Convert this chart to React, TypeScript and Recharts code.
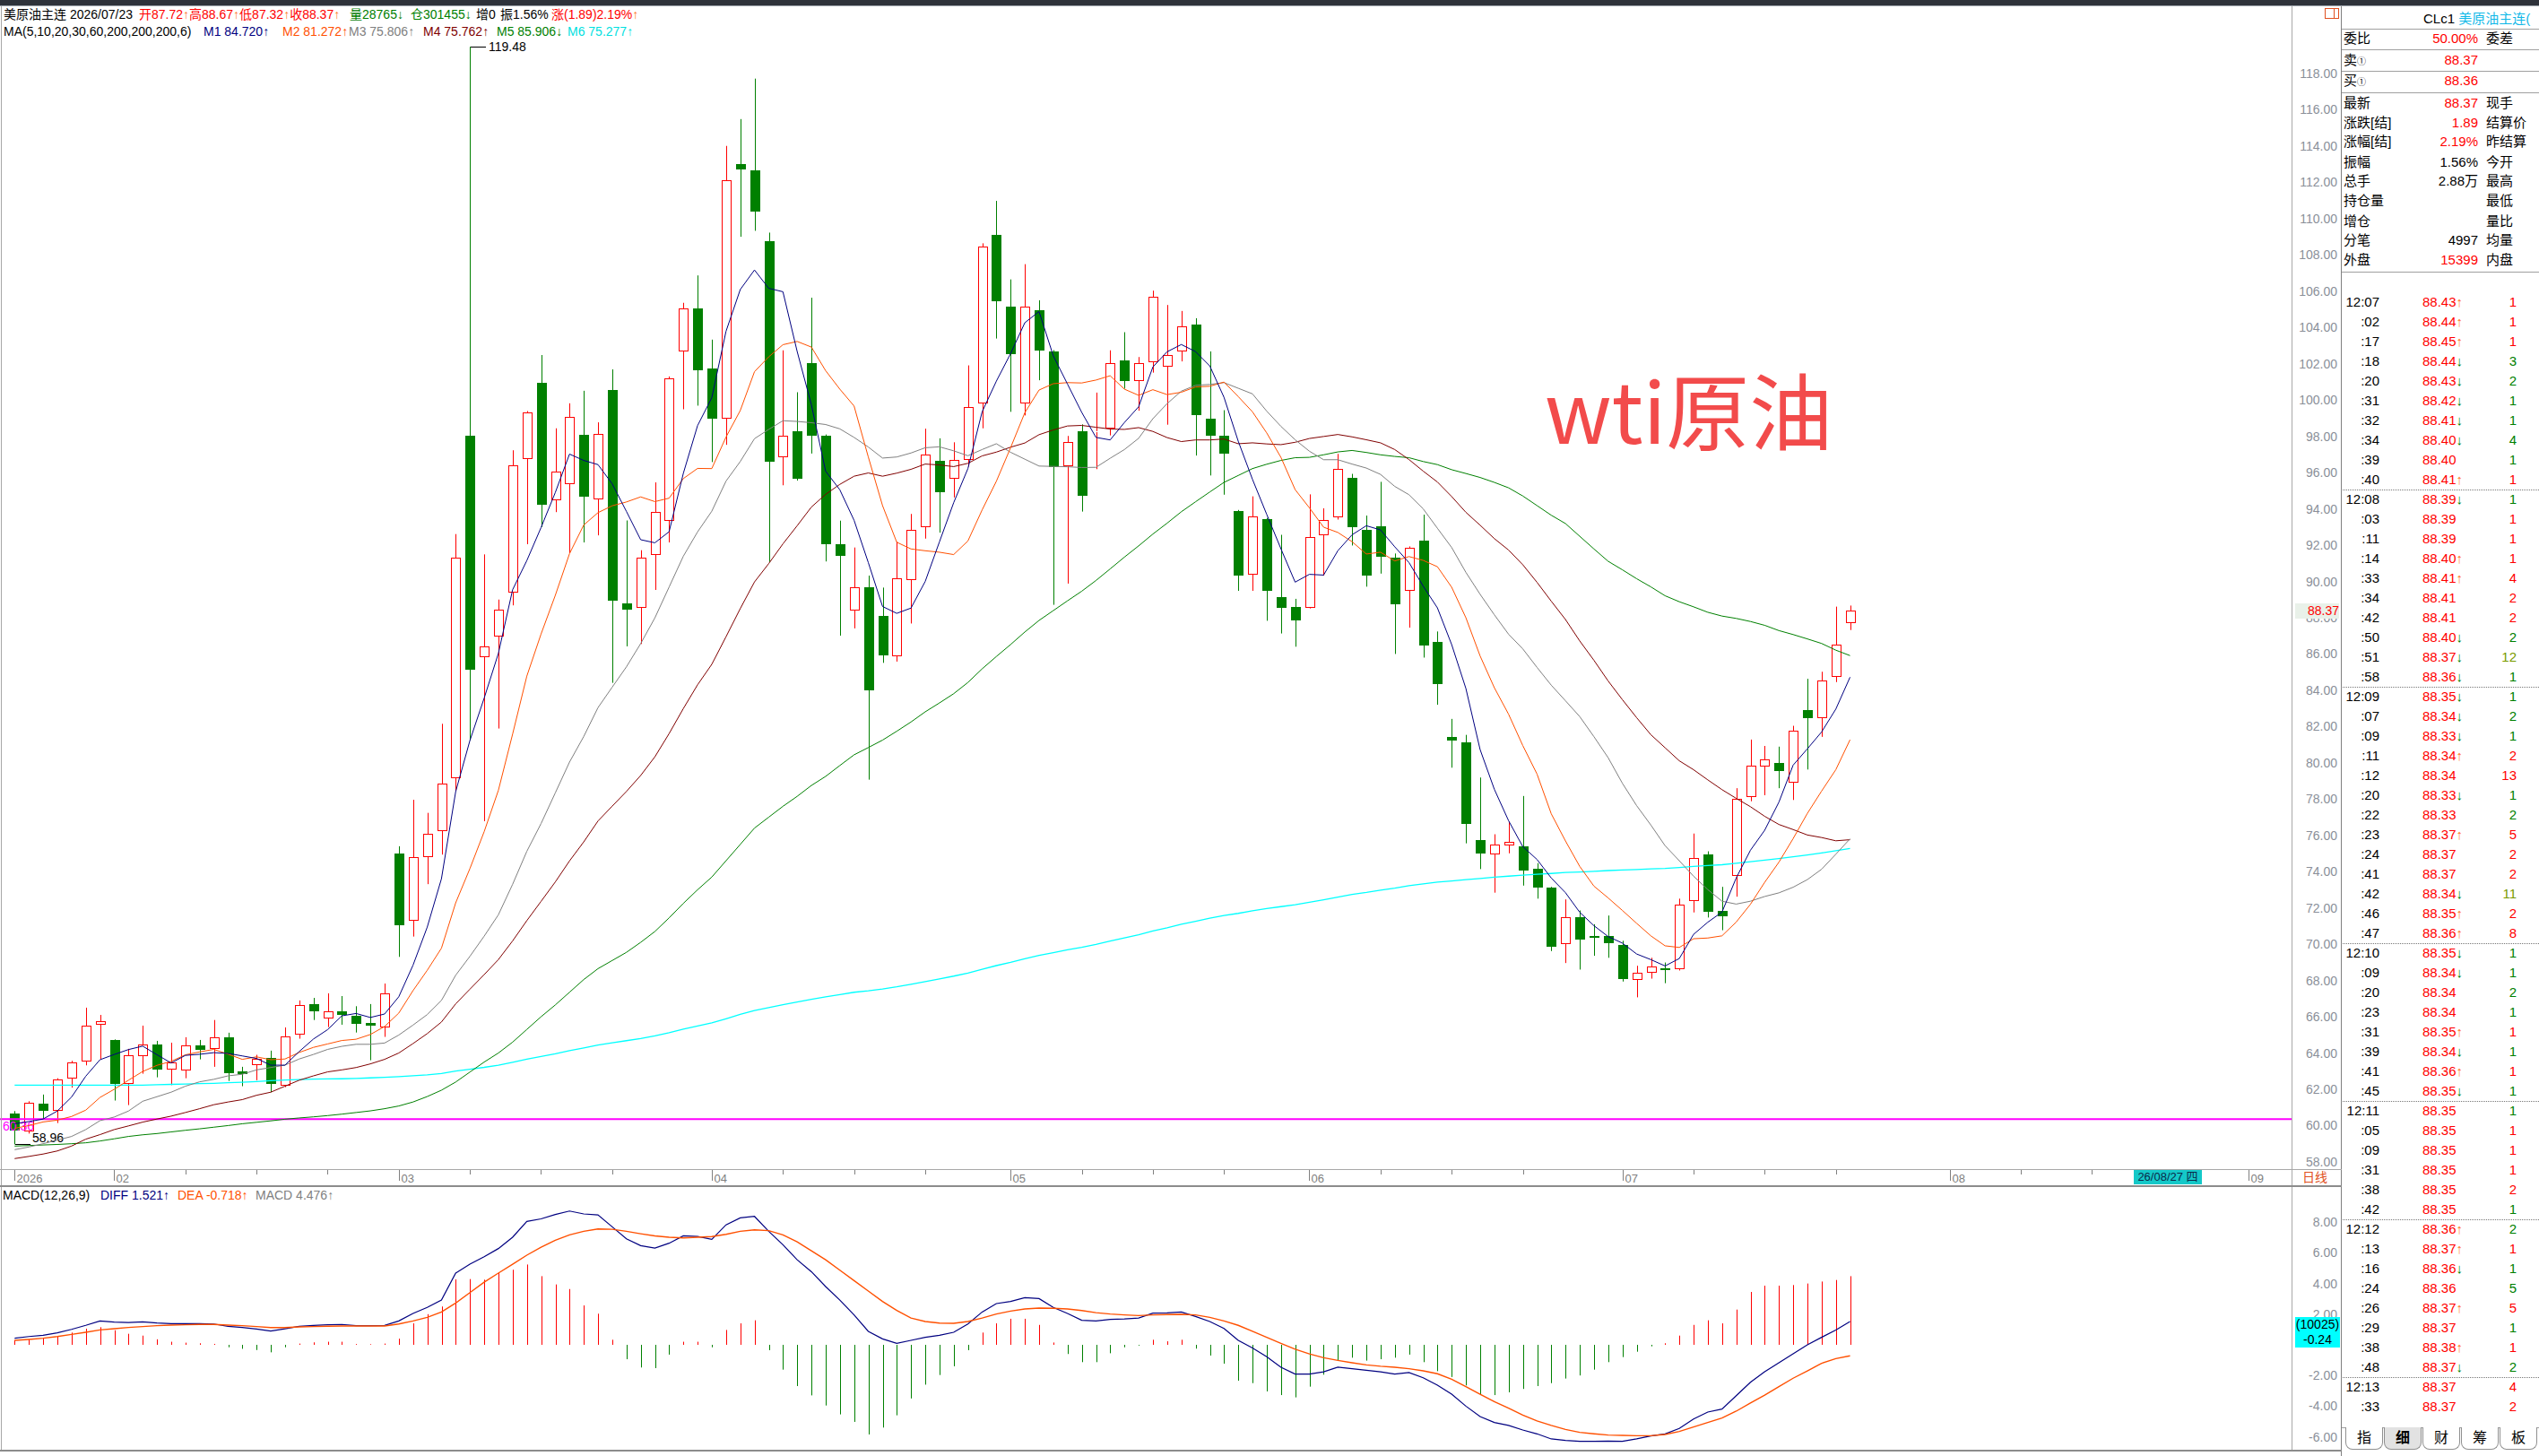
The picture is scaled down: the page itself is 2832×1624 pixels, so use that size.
import React from 'react';
import { ComposedChart, Bar, Line, XAxis, YAxis, ReferenceLine } from 'recharts';

const FONT = "'Liberation Sans', Arial, 'Noto Sans CJK SC', sans-serif";
const RED = '#ff0000';
const GREEN = '#008000';
const AXIS_GRAY = '#8a8f99';

// daily candles, 2026
const opens = [
  60.67, 59.66, 61.21, 60.80, 62.61, 63.52, 65.55, 64.72, 62.28, 63.81,
  64.47, 63.11, 63.02, 64.42, 64.21, 64.87, 62.99, 63.32, 63.73, 62.22,
  65.00, 66.70, 65.92, 66.29, 66.04, 65.66, 65.40, 75.01, 71.27, 74.78,
  76.22, 79.17, 98.05, 85.83, 86.97, 89.40, 96.77, 100.97, 94.48, 95.36,
  98.08, 94.54, 100.54, 88.77, 88.55, 91.46, 93.36, 102.67, 105.06, 101.72,
  98.99, 113.00, 112.64, 108.74, 96.87, 98.28, 102.02, 98.02, 92.04, 88.38,
  89.70, 88.12, 85.87, 90.06, 92.97, 96.64, 95.67, 96.72, 99.79, 109.08,
  105.17, 99.79, 104.95, 102.70, 96.35, 98.29, 98.22, 98.45, 102.19, 101.07,
  102.11, 101.84, 102.66, 104.16, 98.97, 98.02, 93.90, 90.39, 93.46, 89.13,
  88.60, 88.56, 92.53, 93.52, 95.73, 92.82, 93.02, 91.30, 89.48, 92.24,
  86.64, 81.43, 81.15, 75.73, 74.95, 75.43, 75.38, 74.14, 73.12, 69.99,
  71.47, 70.45, 70.45, 69.95, 68.05, 68.44, 68.65, 68.60, 72.40, 74.95,
  71.86, 73.75, 78.10, 79.78, 79.99, 78.89, 82.91, 82.45, 84.74, 87.72,
];
const highs = [
  60.80, 61.34, 61.71, 62.61, 63.57, 66.50, 66.10, 64.75, 64.23, 65.51,
  64.67, 64.57, 64.87, 64.72, 65.82, 65.12, 63.24, 63.90, 64.13, 65.41,
  66.90, 67.04, 67.29, 67.14, 66.58, 66.70, 67.83, 75.40, 77.96, 77.24,
  82.15, 92.61, 119.48, 91.49, 89.00, 97.23, 99.39, 102.48, 98.44, 99.82,
  100.51, 98.77, 101.69, 93.36, 91.72, 95.46, 101.30, 105.36, 106.87, 103.33,
  114.01, 115.49, 117.72, 109.23, 102.74, 100.43, 105.64, 98.10, 93.35, 91.87,
  90.32, 89.66, 92.20, 93.72, 98.42, 97.89, 97.67, 101.91, 108.64, 110.98,
  106.65, 107.49, 105.50, 102.75, 98.02, 98.66, 100.41, 102.74, 103.74, 102.37,
  106.03, 105.24, 104.91, 104.51, 102.68, 99.44, 93.94, 94.69, 93.50, 92.57,
  89.04, 94.80, 94.03, 97.03, 95.93, 93.63, 95.49, 91.54, 91.93, 93.68,
  87.24, 82.42, 81.54, 79.19, 76.06, 76.75, 78.17, 74.47, 73.16, 72.47,
  71.86, 71.10, 71.58, 70.19, 68.81, 69.25, 68.99, 72.51, 76.10, 75.12,
  73.16, 78.60, 81.28, 80.93, 80.89, 82.04, 84.63, 85.02, 88.61, 88.67,
];
const lows = [
  58.96, 59.56, 60.36, 60.14, 62.09, 63.32, 63.65, 61.38, 61.13, 62.86,
  62.66, 62.23, 62.61, 63.65, 63.24, 62.46, 62.17, 62.50, 61.84, 62.12,
  64.79, 65.82, 65.43, 65.56, 65.13, 63.60, 64.89, 69.30, 70.42, 73.31,
  74.94, 78.45, 81.24, 76.78, 81.89, 88.68, 92.05, 93.00, 93.82, 91.56,
  92.15, 92.54, 84.41, 86.42, 86.55, 89.53, 92.15, 99.49, 99.69, 96.58,
  97.53, 109.00, 109.33, 91.07, 95.30, 95.56, 97.05, 91.10, 87.01, 87.41,
  79.07, 85.51, 85.58, 87.68, 92.36, 92.69, 94.63, 96.33, 98.44, 103.39,
  99.35, 99.15, 101.09, 88.71, 89.88, 93.85, 96.19, 98.05, 100.63, 99.41,
  101.51, 98.64, 102.13, 96.94, 95.84, 94.78, 89.48, 89.48, 87.83, 87.13,
  86.40, 88.51, 90.32, 93.41, 91.98, 89.71, 90.43, 86.00, 87.45, 85.80,
  83.20, 79.73, 75.56, 74.14, 72.84, 75.01, 73.23, 72.51, 69.62, 68.96,
  68.60, 69.36, 69.25, 67.94, 67.07, 68.10, 67.85, 68.55, 71.75, 71.47,
  70.77, 72.62, 77.88, 78.21, 78.60, 77.95, 79.63, 81.43, 84.45, 87.32,
];
const closes = [
  59.73, 61.25, 60.83, 62.55, 63.49, 65.50, 65.76, 62.32, 63.88, 64.46,
  63.11, 63.49, 64.42, 64.19, 64.87, 62.91, 62.83, 63.70, 62.32, 64.90,
  66.63, 66.32, 66.29, 66.09, 65.59, 65.50, 67.27, 71.04, 74.78, 76.09,
  78.85, 91.30, 85.14, 86.42, 88.45, 96.41, 99.33, 94.25, 96.05, 99.07,
  94.67, 98.15, 88.94, 88.45, 91.30, 93.82, 101.20, 105.03, 101.62, 98.97,
  112.11, 112.73, 110.41, 96.58, 98.02, 95.66, 98.05, 92.07, 91.43, 89.66,
  84.01, 85.91, 90.19, 92.86, 97.01, 94.94, 96.68, 99.63, 108.48, 105.46,
  102.55, 105.17, 102.75, 96.28, 97.67, 94.74, 98.27, 102.06, 101.07, 102.02,
  105.68, 102.46, 104.05, 99.15, 98.05, 97.05, 90.33, 93.59, 89.48, 88.56,
  87.83, 92.47, 93.41, 96.19, 92.97, 90.30, 91.34, 88.76, 91.83, 86.46,
  84.32, 81.23, 76.64, 75.01, 75.51, 75.66, 74.08, 73.10, 69.88, 71.47,
  70.27, 70.40, 70.08, 68.10, 68.44, 68.75, 68.62, 72.16, 74.73, 71.81,
  71.53, 78.00, 79.84, 80.21, 79.56, 81.76, 82.47, 84.52, 86.50, 88.37,
];

// moving averages as drawn (M1..M6)
const ma5 = [
  60.10, 60.22, 60.36, 60.80, 61.57, 62.72, 63.63, 63.92, 64.19, 64.38,
  63.91, 63.45, 63.87, 63.93, 64.02, 63.98, 63.84, 63.70, 63.33, 63.33,
  64.08, 64.77, 65.29, 66.05, 66.18, 65.96, 66.15, 67.10, 68.84, 70.94,
  73.61, 78.41, 81.23, 83.56, 86.03, 89.54, 91.15, 92.97, 94.90, 97.02,
  96.67, 96.44, 95.38, 93.86, 92.30, 92.13, 92.74, 95.96, 98.59, 100.13,
  103.79, 106.09, 107.17, 106.16, 105.97, 102.68, 99.74, 96.08, 95.05, 93.37,
  91.04, 88.62, 88.24, 88.53, 90.00, 92.18, 94.34, 96.22, 99.35, 101.04,
  102.56, 104.26, 104.88, 102.44, 100.88, 99.32, 97.94, 97.80, 98.76, 99.63,
  101.82, 102.66, 103.06, 102.67, 101.88, 100.15, 97.73, 95.63, 93.70, 91.80,
  89.96, 90.39, 90.35, 91.69, 92.57, 93.07, 92.84, 91.91, 91.04, 89.74,
  88.54, 86.52, 84.10, 80.73, 78.54, 76.81, 75.38, 74.67, 73.65, 72.84,
  71.76, 71.02, 70.42, 70.06, 69.46, 69.15, 68.80, 69.21, 70.54, 71.21,
  71.77, 73.65, 75.18, 76.28, 77.83, 79.87, 80.77, 81.70, 82.96, 84.72,
];
const ma10 = [
  59.85, 60.00, 60.20, 60.30, 60.50, 60.85, 61.55, 62.00, 62.50, 62.98,
  63.32, 63.54, 63.90, 64.06, 64.20, 63.94, 63.65, 63.79, 63.63, 63.67,
  64.03, 64.31, 64.50, 64.69, 64.76, 65.02, 65.46, 66.20, 67.44, 68.56,
  69.78, 72.28, 74.17, 76.20, 78.48, 81.58, 84.78, 87.10, 89.23, 91.53,
  93.11, 93.79, 94.17, 94.38, 94.66, 94.40, 94.59, 95.67, 96.23, 96.22,
  97.96, 99.42, 101.56, 102.38, 103.05, 103.23, 102.92, 101.62, 100.60, 99.67,
  96.86, 94.18, 92.16, 91.79, 91.69, 91.61, 91.48, 92.23, 93.94, 95.52,
  97.37, 99.30, 100.55, 100.90, 100.96, 100.94, 101.10, 101.34, 100.60, 100.26,
  100.57, 100.30, 100.43, 100.72, 100.76, 100.99, 100.19, 99.35, 98.19, 96.84,
  95.06, 94.06, 92.99, 92.70, 92.19, 91.51, 91.61, 91.13, 91.37, 91.16,
  90.81, 89.68, 88.00, 85.89, 84.14, 82.68, 80.95, 79.38, 77.19, 75.69,
  74.29, 73.20, 72.55, 71.86, 71.15, 70.46, 69.91, 69.82, 70.30, 70.34,
  70.46, 71.22, 72.20, 73.41, 74.52, 75.82, 77.21, 78.44, 79.62, 81.27,
];
const ma20 = [
  58.67, 58.82, 59.00, 59.20, 59.40, 59.78, 60.27, 60.47, 60.80, 61.34,
  61.59, 61.84, 62.17, 62.41, 62.55, 62.74, 62.83, 63.07, 63.20, 63.33,
  63.67, 63.92, 64.20, 64.37, 64.48, 64.48, 64.55, 64.99, 65.54, 66.12,
  66.90, 68.29, 69.33, 70.44, 71.62, 73.30, 75.12, 76.65, 78.34, 80.04,
  81.45, 83.04, 84.17, 85.29, 86.57, 87.99, 89.69, 91.39, 92.73, 93.87,
  95.53, 96.61, 97.87, 98.38, 98.86, 98.82, 98.75, 98.65, 98.41, 97.94,
  97.41, 96.80, 96.86, 97.08, 97.37, 97.42, 97.20, 96.93, 97.27, 97.59,
  97.12, 96.74, 96.36, 96.34, 96.32, 96.28, 96.29, 96.79, 97.27, 97.89,
  98.97, 99.80, 100.49, 100.81, 100.86, 100.96, 100.65, 100.34, 99.39, 98.55,
  97.81, 97.18, 96.71, 96.71, 96.47, 96.25, 95.90, 95.24, 94.78, 94.00,
  92.93, 91.87, 90.50, 89.29, 88.16, 87.09, 86.28, 85.26, 84.28, 83.42,
  82.55, 81.44, 80.28, 78.87, 77.64, 76.57, 75.43, 74.60, 73.75, 73.01,
  72.37, 72.21, 72.37, 72.63, 72.83, 73.14, 73.56, 74.13, 74.96, 75.81,
];
const ma30 = [
  58.18, 58.30, 58.43, 58.60, 58.87, 59.25, 59.50, 59.78, 59.98, 60.19,
  60.36, 60.52, 60.72, 60.93, 61.15, 61.30, 61.43, 61.67, 61.84, 62.17,
  62.50, 62.74, 62.96, 63.07, 63.20, 63.40, 63.65, 64.00, 64.52, 65.07,
  65.71, 66.71, 67.52, 68.32, 69.15, 70.18, 71.30, 72.36, 73.43, 74.59,
  75.64, 76.79, 77.61, 78.42, 79.30, 80.33, 81.61, 82.99, 84.30, 85.43,
  86.95, 88.50, 89.97, 90.98, 92.07, 93.07, 94.10, 94.80, 95.35, 95.80,
  95.98, 95.80, 95.97, 96.18, 96.47, 96.42, 96.33, 96.51, 96.92, 97.13,
  97.40, 97.63, 98.09, 98.35, 98.57, 98.60, 98.50, 98.40, 98.38, 98.48,
  98.27, 97.93, 97.71, 97.80, 97.80, 97.85, 97.59, 97.64, 97.58, 97.54,
  97.67, 97.88, 97.99, 98.10, 97.97, 97.81, 97.64, 97.27, 96.72, 96.08,
  95.48, 94.68, 93.81, 93.10, 92.36, 91.73, 90.92, 89.95, 88.91, 87.90,
  86.72, 85.65, 84.51, 83.48, 82.49, 81.55, 80.83, 80.11, 79.62, 79.06,
  78.52, 78.04, 77.58, 77.05, 76.60, 76.32, 76.02, 75.88, 75.70, 75.76,
];
const ma60 = [
  58.87, 58.90, 58.93, 58.96, 59.00, 59.05, 59.15, 59.27, 59.40, 59.49,
  59.56, 59.65, 59.74, 59.82, 59.91, 60.00, 60.10, 60.18, 60.26, 60.35,
  60.42, 60.48, 60.55, 60.63, 60.72, 60.81, 60.93, 61.08, 61.30, 61.60,
  61.95, 62.40, 62.95, 63.50, 64.00, 64.60, 65.30, 66.00, 66.65, 67.35,
  68.05, 68.65, 69.10, 69.55, 70.10, 70.70, 71.45, 72.25, 73.00, 73.70,
  74.60, 75.50, 76.40, 77.00, 77.60, 78.15, 78.75, 79.25, 79.85, 80.44,
  80.84, 81.25, 81.74, 82.25, 82.81, 83.30, 83.81, 84.43, 85.18, 85.86,
  86.52, 87.21, 87.85, 88.39, 88.93, 89.46, 90.05, 90.69, 91.34, 91.96,
  92.61, 93.21, 93.84, 94.39, 94.93, 95.46, 95.84, 96.22, 96.46, 96.67,
  96.82, 96.84, 96.98, 97.14, 97.22, 97.11, 96.98, 96.89, 96.82, 96.61,
  96.44, 96.16, 95.95, 95.73, 95.46, 95.16, 94.71, 94.18, 93.65, 93.19,
  92.49, 91.79, 91.11, 90.64, 90.15, 89.70, 89.21, 88.88, 88.60, 88.30,
  88.09, 87.96, 87.79, 87.58, 87.29, 87.07, 86.83, 86.58, 86.21, 85.91,
];
const ma200 = [
  62.23, 62.23, 62.23, 62.23, 62.23, 62.23, 62.23, 62.23, 62.23, 62.23,
  62.25, 62.27, 62.29, 62.31, 62.33, 62.36, 62.39, 62.43, 62.47, 62.51,
  62.54, 62.56, 62.57, 62.58, 62.60, 62.63, 62.66, 62.70, 62.75, 62.80,
  62.87, 63.01, 63.11, 63.21, 63.33, 63.49, 63.66, 63.81, 63.96, 64.13,
  64.28, 64.44, 64.56, 64.68, 64.80, 64.95, 65.12, 65.32, 65.49, 65.66,
  65.89, 66.13, 66.34, 66.50, 66.66, 66.81, 66.96, 67.10, 67.22, 67.35,
  67.43, 67.53, 67.65, 67.79, 67.94, 68.09, 68.24, 68.41, 68.62, 68.82,
  69.00, 69.20, 69.38, 69.53, 69.69, 69.83, 69.99, 70.17, 70.35, 70.52,
  70.73, 70.90, 71.10, 71.26, 71.43, 71.58, 71.70, 71.84, 71.96, 72.07,
  72.18, 72.31, 72.45, 72.60, 72.74, 72.85, 72.98, 73.09, 73.23, 73.32,
  73.42, 73.49, 73.56, 73.62, 73.69, 73.75, 73.81, 73.86, 73.90, 73.95,
  73.98, 74.02, 74.06, 74.09, 74.12, 74.15, 74.18, 74.23, 74.29, 74.34,
  74.38, 74.46, 74.55, 74.63, 74.72, 74.82, 74.92, 75.03, 75.15, 75.28,
];

// MACD(12,26,9)
const diffs = [
  0.43, 0.54, 0.62, 0.78, 1.01, 1.27, 1.56, 1.48, 1.46, 1.50,
  1.42, 1.38, 1.38, 1.38, 1.36, 1.21, 1.13, 1.03, 0.90, 1.05,
  1.21, 1.27, 1.31, 1.33, 1.25, 1.25, 1.27, 1.56, 2.05, 2.44,
  2.92, 4.68, 5.26, 5.75, 6.28, 7.02, 8.05, 8.22, 8.50, 8.73,
  8.54, 8.48, 7.70, 6.92, 6.47, 6.31, 6.63, 7.11, 7.07, 6.88,
  7.83, 8.28, 8.38, 7.41, 6.53, 5.55, 4.77, 3.80, 2.92, 1.95,
  0.88, 0.39, 0.10, 0.29, 0.49, 0.62, 0.82, 1.36, 2.14, 2.69,
  2.83, 3.08, 3.02, 2.44, 2.05, 1.60, 1.56, 1.66, 1.69, 1.75,
  2.07, 2.08, 2.14, 1.85, 1.52, 1.07, 0.29, -0.20, -0.78, -1.46,
  -1.91, -1.91, -1.76, -1.46, -1.56, -1.66, -1.76, -1.91, -1.81, -2.15,
  -2.63, -3.22, -4.00, -4.68, -5.07, -5.26, -5.56, -5.81, -6.14, -6.24,
  -6.30, -6.30, -6.28, -6.30, -6.14, -5.95, -5.81, -5.46, -4.84, -4.39,
  -4.19, -3.32, -2.44, -1.76, -1.17, -0.59, 0.00, 0.49, 0.97, 1.52,
];
const deas = [
  0.29, 0.35, 0.43, 0.54, 0.68, 0.82, 0.97, 1.05, 1.13, 1.19,
  1.25, 1.29, 1.31, 1.33, 1.33, 1.29, 1.25, 1.19, 1.13, 1.13,
  1.17, 1.19, 1.21, 1.23, 1.23, 1.23, 1.23, 1.36, 1.56, 1.79,
  2.14, 2.73, 3.41, 4.09, 4.68, 5.26, 5.85, 6.37, 6.82, 7.17,
  7.41, 7.56, 7.54, 7.41, 7.25, 7.11, 7.02, 6.98, 7.02, 7.06,
  7.21, 7.41, 7.50, 7.45, 7.17, 6.72, 6.14, 5.55, 4.87, 4.19,
  3.51, 2.83, 2.24, 1.75, 1.52, 1.42, 1.40, 1.52, 1.75, 2.01,
  2.20, 2.34, 2.40, 2.38, 2.34, 2.24, 2.10, 2.01, 1.95, 1.91,
  1.95, 1.97, 1.99, 1.95, 1.79, 1.56, 1.27, 0.88, 0.49, 0.10,
  -0.29, -0.59, -0.84, -1.02, -1.17, -1.31, -1.40, -1.46, -1.56, -1.70,
  -1.89, -2.24, -2.73, -3.22, -3.71, -4.13, -4.58, -4.97, -5.26, -5.52,
  -5.71, -5.81, -5.89, -5.91, -5.93, -5.93, -5.85, -5.65, -5.36, -5.07,
  -4.78, -4.33, -3.80, -3.28, -2.73, -2.18, -1.70, -1.21, -0.90, -0.72,
];
const macdBars = [
  0.30, 0.35, 0.42, 0.55, 0.80, 1.05, 1.15, 0.95, 0.72, 0.60,
  0.36, 0.20, 0.14, 0.10, 0.06, -0.16, -0.26, -0.34, -0.49, -0.16,
  0.08, 0.16, 0.20, 0.20, 0.05, 0.04, 0.08, 0.40, 1.40, 2.00,
  2.50, 4.27, 4.29, 4.25, 4.70, 4.90, 5.24, 4.48, 3.94, 3.64,
  2.57, 2.03, 0.33, -0.94, -1.48, -1.52, -0.64, 0.20, 0.20, -0.16,
  0.97, 1.40, 1.60, -0.35, -1.62, -2.69, -3.30, -3.96, -4.54, -5.03,
  -5.85, -5.40, -4.60, -3.50, -2.60, -1.97, -1.40, -0.35, 0.80, 1.40,
  1.70, 1.70, 1.30, 0.15, -0.60, -1.13, -1.13, -0.55, -0.16, -0.05,
  0.33, 0.23, 0.33, -0.25, -0.70, -1.23, -2.34, -2.50, -3.04, -3.28,
  -3.43, -2.73, -1.95, -1.03, -0.84, -1.03, -0.94, -0.84, -0.64, -1.13,
  -1.72, -2.10, -2.65, -3.28, -3.28, -3.10, -2.88, -2.69, -2.50, -2.20,
  -2.00, -1.62, -1.13, -0.80, -0.45, -0.10, 0.10, 0.60, 1.30, 1.60,
  1.40, 2.30, 3.45, 3.86, 3.86, 3.90, 4.00, 4.13, 4.23, 4.48,
];

// x axis: month starts and 5-day ticks (slot indices)
const monthTicks = [0, 7, 27, 49, 70, 91, 113, 136, 157];
const monthLabels = ['2026', '02', '03', '04', '05', '06', '07', '08', '09'];
const minorTicks = [12, 17, 22, 32, 37, 42, 54, 59, 64, 75, 80, 85, 96, 101, 106, 118, 123, 128, 141, 146, 151];
const priceTicks = [58, 60, 62, 64, 66, 68, 70, 72, 74, 76, 78, 80, 82, 84, 86, 88, 90, 92, 94, 96, 98, 100, 102, 104, 106, 108, 110, 112, 114, 116, 118];
// the 0.00 label sits under the cyan cursor box
const macdTicks = [-6, -4, -2, 2, 4, 6, 8];
const refPrice = 60.36;

// right panel
const infoLabels = ['委比', '卖①', '买①', '最新', '涨跌[结]', '涨幅[结]', '振幅', '总手', '持仓量', '增仓', '分笔', '外盘'];
const infoValues = ['50.00%', '88.37', '88.36', '88.37', '1.89', '2.19%', '1.56%', '2.88万', '', '', '4997', '15399'];
const infoRed = [1, 1, 1, 1, 1, 1, 0, 0, 0, 0, 0, 1];
const infoRight = ['委差', '', '', '现手', '结算价', '昨结算', '今开', '最高', '最低', '量比', '均量', '内盘'];
const infoY = [43, 67, 90, 115, 137, 158, 181, 202, 224, 247, 268, 290];

const tradeTimes = ['12:07', ':02', ':17', ':18', ':20', ':31', ':32', ':34', ':39', ':40',
  '12:08', ':03', ':11', ':14', ':33', ':34', ':42', ':50', ':51', ':58',
  '12:09', ':07', ':09', ':11', ':12', ':20', ':22', ':23', ':24', ':41', ':42', ':46', ':47',
  '12:10', ':09', ':20', ':23', ':31', ':39', ':41', ':45',
  '12:11', ':05', ':09', ':31', ':38', ':42',
  '12:12', ':13', ':16', ':24', ':26', ':29', ':38', ':48',
  '12:13', ':33'];
const tradePrices = ['88.43', '88.44', '88.45', '88.44', '88.43', '88.42', '88.41', '88.40', '88.40', '88.41',
  '88.39', '88.39', '88.39', '88.40', '88.41', '88.41', '88.41', '88.40', '88.37', '88.36',
  '88.35', '88.34', '88.33', '88.34', '88.34', '88.33', '88.33', '88.37', '88.37', '88.37', '88.34', '88.35', '88.36',
  '88.35', '88.34', '88.34', '88.34', '88.35', '88.34', '88.36', '88.35',
  '88.35', '88.35', '88.35', '88.35', '88.35', '88.35',
  '88.36', '88.37', '88.36', '88.36', '88.37', '88.37', '88.38', '88.37',
  '88.37', '88.37'];
const tradeArrows = 'uuudddddnu' + 'dnnuunnddd' + 'dddundnunnduu' + 'ddnnudud' + 'nnnnnn' + 'uudnunud' + 'nn';
const tradeVols = [1, 1, 1, 3, 2, 1, 1, 4, 1, 1, 1, 1, 1, 1, 4, 2, 2, 2, 12, 1,
  1, 2, 1, 2, 13, 1, 2, 5, 2, 2, 11, 2, 8, 1, 1, 2, 1, 1, 1, 1, 1,
  1, 1, 1, 1, 2, 1, 2, 1, 1, 5, 5, 1, 1, 2, 4, 2];
const tradeVolColor = 'rrrggggggr' + 'grrrrrrgog' + 'gggrrggrrrorr' + 'ggggrgrg' + 'grrrrg' + 'grggrgrg' + 'rr';
const groupStarts = [10, 20, 33, 41, 47, 55];

const SLOTS = 160;
const PLOT_LEFT = 8.37;
const CHART_W = 2612;
const Y_AXIS_W = CHART_W - PLOT_LEFT - SLOTS * 15.87;
const AXIS_Y = 1304;

const rows = Array.from({ length: SLOTS }, (_, i) =>
  i < closes.length
    ? {
        idx: i,
        range: [lows[i], highs[i]],
        open: opens[i],
        close: closes[i],
        high: highs[i],
        low: lows[i],
        ma5: ma5[i],
        ma10: ma10[i],
        ma20: ma20[i],
        ma30: ma30[i],
        ma60: ma60[i],
        ma200: ma200[i],
        diff: diffs[i],
        dea: deas[i],
        macd: macdBars[i],
      }
    : { idx: i }
);

const maxIdx = highs.indexOf(Math.max(...highs));
const minIdx = lows.indexOf(Math.min(...lows));

const Candle = (props: any) => {
  const { x, y, width, height, payload } = props;
  if (!payload || payload.open == null) return null;
  const { open, close, high, low } = payload;
  const top = Math.min(y, y + height);
  const bot = Math.max(y, y + height);
  const span = high - low;
  const py = (v: number) => (span === 0 ? top : top + ((high - v) / span) * (bot - top));
  const cx = Math.round(x + width / 2);
  const up = close >= open;
  const color = up ? RED : GREEN;
  const bTop = Math.round(py(Math.max(open, close)));
  const bBot = Math.max(bTop + 1, Math.round(py(Math.min(open, close))));
  const items: any[] = [];
  if (up) {
    items.push(<line key="w1" x1={cx + 0.5} x2={cx + 0.5} y1={top} y2={bTop} stroke={color} strokeWidth={1} />);
    items.push(<line key="w2" x1={cx + 0.5} x2={cx + 0.5} y1={bBot} y2={bot} stroke={color} strokeWidth={1} />);
    items.push(<rect key="b" x={cx - 4.5} y={bTop + 0.5} width={10} height={Math.max(bBot - bTop - 1, 0)} fill="#ffffff" stroke={color} strokeWidth={1} />);
  } else {
    items.push(<line key="w" x1={cx + 0.5} x2={cx + 0.5} y1={top} y2={bot} stroke={color} strokeWidth={1} />);
    items.push(<rect key="b" x={cx - 5} y={bTop} width={11} height={Math.max(bBot - bTop, 2)} fill={color} />);
  }
  if (payload.idx === maxIdx) {
    items.push(<line key="hl" x1={cx + 1} x2={cx + 18} y1={Math.round(top) + 0.5} y2={Math.round(top) + 0.5} stroke="#000" strokeWidth={1} />);
    items.push(<text key="ht" x={cx + 21} y={top + 5} fontSize={14} fill="#000" fontFamily={FONT}>{high.toFixed(2)}</text>);
  }
  if (payload.idx === minIdx) {
    items.push(<line key="ll" x1={cx + 1} x2={cx + 18} y1={Math.round(bot) + 0.5} y2={Math.round(bot) + 0.5} stroke="#000" strokeWidth={1} />);
    items.push(<text key="lt" x={cx + 20} y={bot - 2} fontSize={14} fill="#000" fontFamily={FONT}>{low.toFixed(2)}</text>);
  }
  return <g>{items}</g>;
};

const MacdBar = (props: any) => {
  const { x, y, width, height, payload } = props;
  if (!payload || payload.macd == null) return null;
  const top = Math.min(y, y + height);
  const bot = Math.max(y, y + height);
  const cx = Math.round(x + width / 2) + 0.5;
  return <line x1={cx} x2={cx} y1={top} y2={bot} stroke={payload.macd >= 0 ? RED : GREEN} strokeWidth={1} />;
};

const DateTick = (props: any) => {
  const { x, payload } = props;
  const k = monthTicks.indexOf(payload.value);
  const major = k >= 0;
  const tx = Math.round(x) + 0.5;
  return (
    <g>
      <line x1={tx} x2={tx} y1={AXIS_Y} y2={AXIS_Y + (major ? 13 : 6)} stroke="#808080" strokeWidth={1} />
      {major && (
        <text x={tx + 2} y={AXIS_Y + 15} fontSize={13} fill="#808080" fontFamily={FONT}>
          {monthLabels[k]}
        </text>
      )}
    </g>
  );
};

const PriceTick = (props: any) => (
  <text x={2607} y={props.y + 5} textAnchor="end" fontSize={14} fill={AXIS_GRAY} fontFamily={FONT}>
    {Number(props.payload.value).toFixed(2)}
  </text>
);

const Abs = ({ left, top, w, align, color = '#000', size = 14, weight, h, bg, children, extra }: any) => (
  <div
    style={{
      position: 'absolute',
      left,
      top,
      width: w,
      height: h,
      textAlign: align,
      color,
      fontSize: size,
      lineHeight: h ? `${h}px` : `${size + 3}px`,
      whiteSpace: 'pre',
      fontWeight: weight,
      background: bg,
      ...extra,
    }}
  >
    {children}
  </div>
);

const HLine = ({ x, y, w, color = '#a0a0a0', t = 1, dotted }: any) => (
  <div style={{ position: 'absolute', left: x, top: y, width: w, height: 0, borderTop: `${t}px ${dotted ? 'dotted' : 'solid'} ${color}` }} />
);
const VLine = ({ x, y, h, color = '#a0a0a0', t = 1 }: any) => (
  <div style={{ position: 'absolute', left: x, top: y, width: 0, height: h, borderLeft: `${t}px solid ${color}` }} />
);

const UP_ARROW = '#ff7a30';

const Header = () => (
  <>
    <Abs left={4} top={8}>美原油主连 2026/07/23</Abs>
    <Abs left={155} top={8}>
      <span style={{ color: RED }}>开87.72</span><span style={{ color: UP_ARROW }}>↑</span>
      <span style={{ color: RED }}>高88.67</span><span style={{ color: UP_ARROW }}>↑</span>
      <span style={{ color: RED }}>低87.32</span><span style={{ color: UP_ARROW }}>↑</span>
      <span style={{ color: RED }}>收88.37</span><span style={{ color: UP_ARROW }}>↑</span>
    </Abs>
    <Abs left={390} top={8} color={GREEN}>量28765↓</Abs>
    <Abs left={458} top={8} color={GREEN}>仓301455↓</Abs>
    <Abs left={531} top={8}>增0</Abs>
    <Abs left={558} top={8}>振1.56%</Abs>
    <Abs left={615} top={8}>
      <span style={{ color: RED }}>涨(1.89)2.19%</span><span style={{ color: UP_ARROW }}>↑</span>
    </Abs>
    <Abs left={4} top={27}>MA(5,10,20,30,60,200,200,200,6)</Abs>
    <Abs left={227} top={27} color="#000080">M1 84.720↑</Abs>
    <Abs left={315} top={27} color="#ff5000">M2 81.272↑</Abs>
    <Abs left={389} top={27} color="#808080">M3 75.806↑</Abs>
    <Abs left={472} top={27} color="#800000">M4 75.762↑</Abs>
    <Abs left={554} top={27} color={GREEN}>M5 85.906↓</Abs>
    <Abs left={633} top={27} color="#00e0e0">M6 75.277↑</Abs>
    <Abs left={3} top={1325}>MACD(12,26,9)</Abs>
    <Abs left={112} top={1325} color="#000080">DIFF 1.521↑</Abs>
    <Abs left={198} top={1325} color="#ff5000">DEA -0.718↑</Abs>
    <Abs left={285} top={1325} color="#808080">MACD 4.476↑</Abs>
  </>
);

const RightPanel = () => {
  const rowsEls: any[] = [];
  infoLabels.forEach((lab, i) => {
    const top = infoY[i] - 11;
    const circled = lab.endsWith('①');
    rowsEls.push(
      <Abs key={'l' + i} left={2614} top={top} h={22} size={15}>
        {circled ? (
          <>
            {lab.slice(0, -1)}
            <span style={{ fontSize: 10 }}>①</span>
          </>
        ) : (
          lab
        )}
      </Abs>
    );
    if (infoValues[i])
      rowsEls.push(
        <Abs key={'v' + i} left={2664} w={100} align="right" top={top} h={22} size={15} color={infoRed[i] ? RED : '#000'}>
          {infoValues[i]}
        </Abs>
      );
    if (infoRight[i])
      rowsEls.push(
        <Abs key={'r' + i} left={2773} top={top} h={22} size={15}>
          {infoRight[i]}
        </Abs>
      );
  });
  const trades: any[] = [];
  tradeTimes.forEach((t, k) => {
    const top = 336.7 + 22 * k - 11;
    const ar = tradeArrows[k];
    const vc = tradeVolColor[k];
    trades.push(
      <Abs key={'t' + k} left={2600} w={54} align="right" top={top} h={22} size={15}>{t}</Abs>,
      <Abs key={'p' + k} left={2702} top={top} h={22} size={15} color={RED}>
        {tradePrices[k]}
        {ar === 'u' && <span style={{ color: UP_ARROW }}>↑</span>}
        {ar === 'd' && <span style={{ color: GREEN }}>↓</span>}
      </Abs>,
      <Abs key={'n' + k} left={2760} w={47} align="right" top={top} h={22} size={15} color={vc === 'r' ? RED : vc === 'o' ? '#7a9a00' : GREEN}>
        {tradeVols[k]}
      </Abs>
    );
  });
  groupStarts.forEach((k) => trades.push(<HLine key={'d' + k} x={2613} y={336.7 + 22 * k - 10.5} w={219} color="#777" dotted />));
  const tabs = ['指', '细', '财', '筹', '板'];
  return (
    <>
      <Abs left={2703} top={11} h={20} size={15}>
        CLc1 <span style={{ color: '#10b8e8' }}>美原油主连(</span>
      </Abs>
      {[31.5, 55, 79, 103, 303].map((y) => (
        <HLine key={y} x={2612} y={y} w={220} color="#a0a0a0" />
      ))}
      {rowsEls}
      {trades}
      <HLine x={2612} y={1592} w={220} color="#a0a0a0" />
      {tabs.map((t, i) => (
        <div
          key={t}
          style={{
            position: 'absolute',
            left: 2616 + i * 43,
            top: 1592,
            width: 40,
            height: 24,
            border: '1px solid #909090',
            borderTop: 'none',
            borderRadius: '0 0 8px 8px',
            background: i === 1 ? '#e2e2e2' : '#fff',
            fontWeight: i === 1 ? 700 : 400,
            fontSize: 16,
            lineHeight: '24px',
            textAlign: 'center',
          }}
        >
          {t}
        </div>
      ))}
    </>
  );
};

const MainChart = () => (
  <div style={{ position: 'absolute', left: 0, top: 0 }}>
    <ComposedChart width={CHART_W} height={1330} data={rows} margin={{ top: 45, right: 0, bottom: 0, left: PLOT_LEFT }} barCategoryGap="10%">
      <XAxis dataKey="idx" type="category" ticks={[...monthTicks, ...minorTicks]} interval={0} height={26} axisLine={false} tickLine={false} tick={(p: any) => <DateTick {...p} />} />
      <YAxis orientation="right" width={Y_AXIS_W} domain={[57.6, 119.83]} allowDataOverflow ticks={priceTicks} interval={0} axisLine={false} tickLine={false} tick={(p: any) => <PriceTick {...p} />} />
      <ReferenceLine
        y={refPrice}
        stroke="#ff00ff"
        strokeWidth={2}
        shape={(p: any) => <line x1={0} x2={2556} y1={p.y1} y2={p.y2} stroke="#ff00ff" strokeWidth={2} />}
        label={(p: any) => (
          <text x={3} y={p.viewBox.y + 13} fontSize={14} fill="#ff00ff" fontFamily={FONT}>
            {refPrice.toFixed(2)}
          </text>
        )}
      />
      <Bar dataKey="range" shape={(p: any) => <Candle {...p} />} isAnimationActive={false} />
      <Line dataKey="ma200" stroke="#00ffff" strokeWidth={1.3} dot={false} isAnimationActive={false} />
      <Line dataKey="ma60" stroke="#008000" strokeWidth={1} dot={false} isAnimationActive={false} />
      <Line dataKey="ma30" stroke="#800000" strokeWidth={1} dot={false} isAnimationActive={false} />
      <Line dataKey="ma20" stroke="#808080" strokeWidth={1} dot={false} isAnimationActive={false} />
      <Line dataKey="ma10" stroke="#ff5000" strokeWidth={1} dot={false} isAnimationActive={false} />
      <Line dataKey="ma5" stroke="#000080" strokeWidth={1} dot={false} isAnimationActive={false} />
    </ComposedChart>
  </div>
);

const MacdChart = () => (
  <div style={{ position: 'absolute', left: 0, top: 1330 }}>
    <ComposedChart width={CHART_W} height={288} data={rows} margin={{ top: 10, right: 0, bottom: 4, left: PLOT_LEFT }} barCategoryGap="10%">
      <XAxis dataKey="idx" type="category" hide />
      <YAxis
        orientation="right"
        width={Y_AXIS_W}
        domain={[-6.67, 9.36]}
        allowDataOverflow
        ticks={macdTicks}
        interval={0}
        axisLine={false}
        tickLine={false}
        tick={(p: any) => <PriceTick {...p} />}
      />
      <Bar dataKey="macd" shape={(p: any) => <MacdBar {...p} />} isAnimationActive={false} />
      <Line dataKey="diff" stroke="#000080" strokeWidth={1.2} dot={false} isAnimationActive={false} />
      <Line dataKey="dea" stroke="#ff5000" strokeWidth={1.4} dot={false} isAnimationActive={false} />
    </ComposedChart>
  </div>
);

export default function App() {
  return (
    <div
      style={{
        position: 'fixed',
        left: 0,
        top: 0,
        width: 2832,
        height: 1624,
        background: '#ffffff',
        overflow: 'hidden',
        fontFamily: FONT,
        color: '#000',
      }}
    >
      <MainChart />
      <MacdChart />
      {/* frame */}
      <div style={{ position: 'absolute', left: 0, top: 0, width: 2832, height: 6, background: '#2e323a' }} />
      <HLine x={0} y={6} w={2832} color="#9aa0a8" />
      <VLine x={1} y={7} h={1612} color="#a8a8a8" />
      <VLine x={2556} y={7} h={1612} color="#a8a8a8" />
      <VLine x={2611} y={7} h={1617} color="#808080" />
      <HLine x={0} y={AXIS_Y} w={2612} color="#a8a8a8" />
      <HLine x={0} y={1322} w={2612} color="#8c8c8c" t={2} />
      <HLine x={0} y={1617} w={2612} color="#8c8c8c" t={2} />
      <Header />
      {/* axis side widgets */}
      <div style={{ position: 'absolute', left: 2593, top: 9, width: 14, height: 10, border: '1px solid #e05020' }}>
        <div style={{ position: 'absolute', left: 9, top: 0, width: 0, height: 10, borderLeft: '1px solid #e05020' }} />
      </div>
      <Abs left={2560} top={673} w={49} h={17} align="right" size={14} color={RED} bg="#e9f1e9">88.37</Abs>
      <Abs left={2568} top={1305} h={17} size={14} color="#e05020">日线</Abs>
      <div style={{ position: 'absolute', left: 2560, top: 1469, width: 50, height: 34, background: '#00ffff', fontSize: 14, lineHeight: '17px', textAlign: 'center', color: '#000' }}>
        (10025)
        <br />
        -0.24
      </div>
      <Abs left={2380} top={1305} w={76} h={16} size={13} bg="#14c8c8" align="center" color="#0a2a4a">26/08/27 四</Abs>
      <div
        style={{
          position: 'absolute',
          left: 1723,
          top: 405,
          fontSize: 93,
          lineHeight: '100px',
          color: '#f24b4b',
          fontFamily: "'Noto Sans CJK SC', sans-serif",
          whiteSpace: 'pre',
        }}
      >
        wti原油
      </div>
      <RightPanel />
    </div>
  );
}
